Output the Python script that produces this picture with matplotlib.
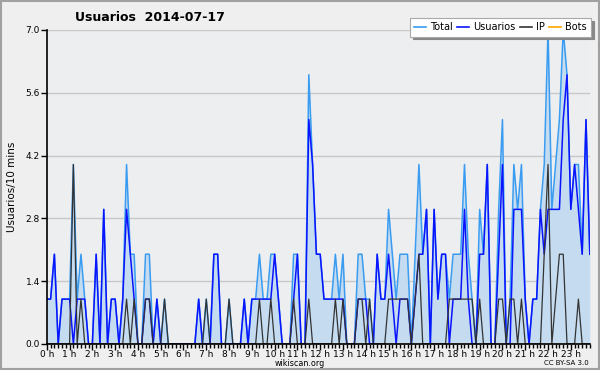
import matplotlib
matplotlib.use("Agg")
import matplotlib.pyplot as plt
from matplotlib.patches import Rectangle
from matplotlib.ticker import MultipleLocator
import numpy as np

# one value every 10 minutes, 144 slots
usuarios = [1,1,2,0,1,1,1,0,1,1, 1,0,0,2,0,3,0,1,1,0, 1,3,2,1,0,0,1,1,0,1,
            0,0,0,0,0,0,0,0,0,0, 1,0,0,0,2,2,0,0,0,0, 0,0,1,0,1,1,1,1,1,1,
            2,1,0,0,0,1,2,0,0,5, 4,2,2,1,1,1,1,1,1,0, 0,0,1,1,1,0,0,2,1,1,
            2,1,0,1,1,1,0,1,2,2, 3,0,3,1,2,2,0,1,1,1, 3,1,0,0,2,2,4,0,0,2,
            4,0,0,3,3,3,1,0,1,1, 3,2,3,3,3,3,5,6,3,4, 3,2,5,2]
ip = [0,0,0,0,0,0,0,4,0,1, 0,0,0,0,0,0,0,0,0,0, 0,1,0,1,0,0,1,1,0,0,
      0,1,0,0,0,0,0,0,0,0, 0,0,1,0,0,0,0,0,1,0, 0,0,0,0,0,0,1,0,0,1,
      0,0,0,0,0,1,0,0,0,1, 0,0,0,0,0,0,1,0,1,0, 0,0,1,1,0,1,0,0,0,0,
      1,1,1,1,1,1,0,1,2,0, 0,0,0,0,0,0,1,1,1,1, 1,1,1,0,1,0,0,0,0,1,
      1,0,1,1,0,1,0,0,0,0, 0,2,4,0,1,2,2,0,0,0, 1,0,0,0]
total = [1,1,2,0,1,1,1,4,1,2, 1,0,0,2,0,3,0,1,1,0, 1,4,2,2,0,0,2,2,0,1,
         0,1,0,0,0,0,0,0,0,0, 1,0,1,0,2,2,0,0,1,0, 0,0,1,0,1,1,2,1,1,2,
         2,1,0,0,0,2,2,0,0,6, 4,2,2,1,1,1,2,1,2,0, 0,0,2,2,1,1,0,2,1,1,
         3,2,1,2,2,2,0,2,4,2, 3,0,3,1,2,2,1,2,2,2, 4,2,1,0,3,2,4,0,0,3,
         5,0,1,4,3,4,1,0,1,1, 3,4,7,3,4,5,7,6,3,4, 4,2,5,2]
bots = [0] * 144

hour_labels = [f"{h} h" for h in range(24)]

x = np.arange(len(total))

fig = plt.figure(figsize=(6, 3.7), dpi=100, facecolor="#efefef")
ax = fig.add_axes([0.078, 0.0703, 0.905, 0.849])
ax.set_facecolor("#eceef0")

ax.fill_between(x, total, 0, color="#c5dcf0", lw=0, zorder=1)
ax.plot(x, bots, color="#ffa500", lw=1, zorder=1.5)
ax.plot(x, total, color="#3a9cf0", lw=1.1, zorder=2)
ax.plot(x, usuarios, color="#0a14ff", lw=1.1, zorder=3)
ax.plot(x, ip, color="#333333", lw=0.9, zorder=4)

ax.set_xlim(0, 143)
ax.set_ylim(0, 7)
ax.set_yticks(np.arange(0, 7.01, 1.4))
ax.set_yticklabels([f"{v:.1f}" for v in np.arange(0, 7.01, 1.4)], fontsize=6.5)
ax.set_xticks(np.arange(0, 144, 6))
ax.set_xticklabels(hour_labels, fontsize=6.5)
ax.xaxis.set_minor_locator(MultipleLocator(1))
ax.tick_params(axis="x", which="major", length=4, width=1, pad=0.5)
ax.tick_params(axis="x", which="minor", length=3, width=1)
ax.tick_params(axis="y", length=4, width=1, pad=1)
ax.grid(axis="y", color="#c8c8c8", lw=1)
ax.set_axisbelow(True)
for s in ["top", "right"]:
    ax.spines[s].set_visible(False)
for s in ["left", "bottom"]:
    ax.spines[s].set_linewidth(1.2)
    ax.spines[s].set_zorder(5)

ax.set_ylabel("Usuarios/10 mins", fontsize=7.5, labelpad=6)
fig.text(0.125, 0.953, "Usuarios  2014-07-17", fontsize=9, fontweight="bold",
         ha="left", va="center")
fig.text(0.5, 0.017, "wikiscan.org", fontsize=5.8, ha="center", va="center")
fig.text(0.982, 0.02, "CC BY-SA 3.0", fontsize=5, ha="right", va="center")

handles = [plt.Line2D([], [], color=c, lw=1.2)
           for c in ["#3a9cf0", "#0a14ff", "#333333", "#ffa500"]]
leg = fig.legend(handles, ["Total", "Usuarios", "IP", "Bots"], ncol=4,
                 loc="upper right", bbox_to_anchor=(0.985, 0.952), fontsize=7,
                 handlelength=1.2, handletextpad=0.4, columnspacing=0.5,
                 borderpad=0.45, borderaxespad=0, fancybox=False,
                 shadow={"color": "#888888", "alpha": 1},
                 framealpha=1, edgecolor="#aaaaaa")
leg.get_frame().set_linewidth(0.8)

fig.patches.append(Rectangle((0.002, 0.003), 0.996, 0.994, transform=fig.transFigure,
                             fill=False, edgecolor="#a0a0a0", lw=1.5))

fig.savefig("out.png", dpi=100, facecolor=fig.get_facecolor())
